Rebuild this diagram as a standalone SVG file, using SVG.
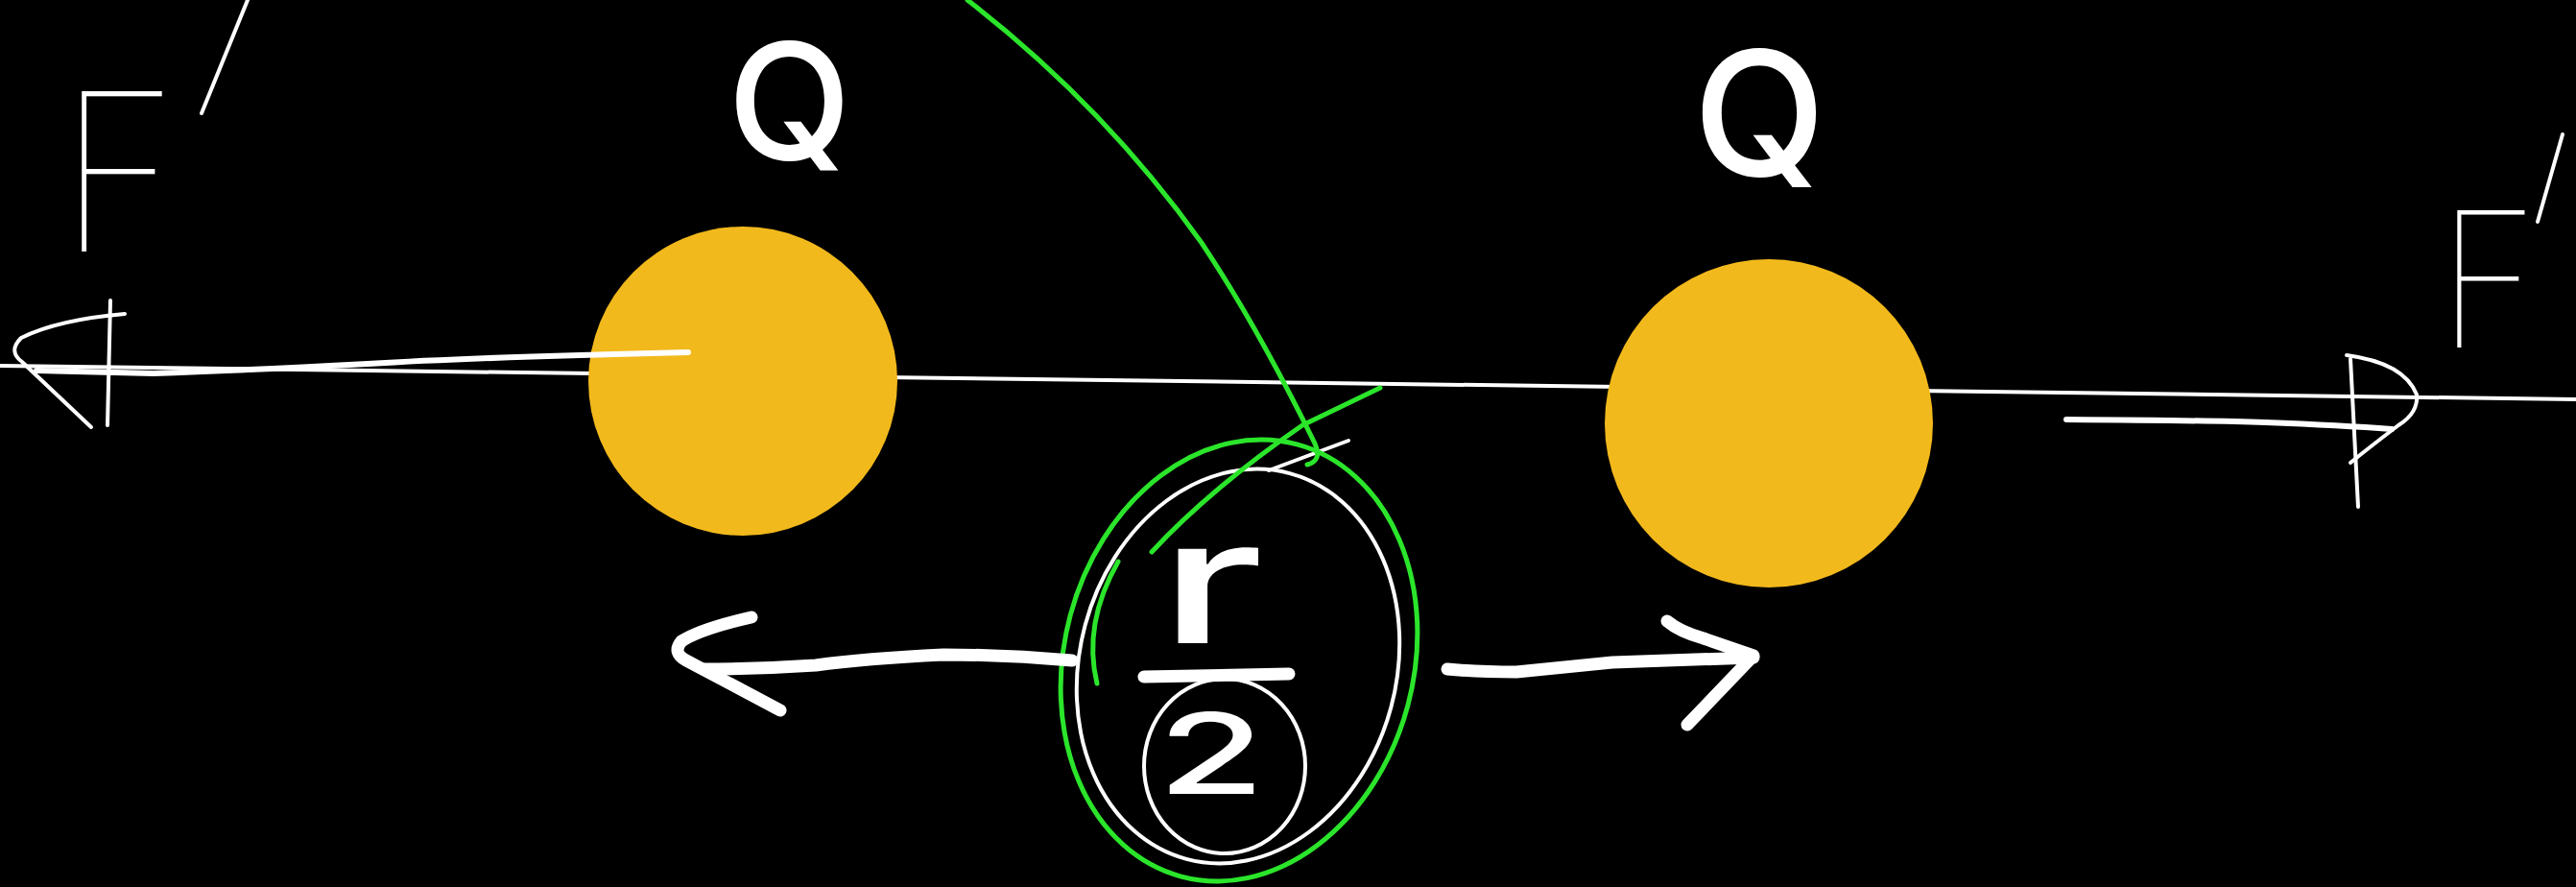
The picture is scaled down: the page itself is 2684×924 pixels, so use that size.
<svg xmlns="http://www.w3.org/2000/svg" width="2684" height="924" viewBox="0 0 2684 924">
<style>
.bg{fill:#000}
.charge{fill:#F2B91C}
.ink{fill:none;stroke:#fff;stroke-linecap:round;stroke-linejoin:round}
.thin{stroke-width:4}
.mid{stroke-width:6}
.bold{stroke-width:13}
.green{fill:none;stroke:#2BE52B;stroke-width:5;stroke-linecap:round;stroke-linejoin:round}
.lbl{fill:#fff;font-family:Inter,"Liberation Sans",Arial,sans-serif;font-weight:500}
.fine{font-weight:100}
</style>
<rect class="bg" x="0" y="0" width="2684" height="924"/>
<g id="axis">
<line class="ink thin" x1="0" y1="381" x2="2684" y2="416"/>
</g>
<g id="charge-left">
<circle class="charge" cx="774" cy="397" r="161"/>
<text class="lbl" x="758" y="166" font-size="168">Q</text>
</g>
<g id="charge-right">
<circle class="charge" cx="1843" cy="441" r="171"/>
<text class="lbl" x="1764" y="183" font-size="180">Q</text>
</g>
<g id="force-left">
<text class="lbl fine" x="61" y="262" font-size="230" textLength="125" lengthAdjust="spacingAndGlyphs">F</text>
<line class="ink thin" x1="210" y1="118" x2="258" y2="0"/>
</g>
<g id="force-right">
<text class="lbl fine" x="2540" y="362" font-size="196" textLength="105" lengthAdjust="spacingAndGlyphs">F</text>
<line class="ink thin" x1="2644" y1="231" x2="2670" y2="140"/>
</g>
<g id="midpoint">
<ellipse class="ink thin" cx="1290" cy="694" rx="165" ry="208" transform="rotate(15 1290 694)"/>
<line class="ink thin" x1="1322" y1="490" x2="1405" y2="459"/>
<ellipse class="ink thin" cx="1276" cy="798" rx="84" ry="91"/>
<text class="lbl" x="1207" y="670" font-size="180" textLength="110" lengthAdjust="spacingAndGlyphs">r</text>
<line class="ink bold" x1="1192" y1="705" x2="1343" y2="702"/>
<text class="lbl" x="1206" y="827" font-size="116" textLength="112" lengthAdjust="spacingAndGlyphs">2</text>
</g>
<g id="highlight">
<path class="green" d="M1008,0 Q1150,110 1252,253 Q1310,340 1370,462 Q1378,480 1362,484"/>
<ellipse class="green" cx="1291" cy="688" rx="182" ry="233" transform="rotate(15 1291 688)"/>
<path class="green" d="M1438,404 L1357,443 Q1260,510 1200,575"/>
<path class="green" d="M1143,712 Q1128,650 1165,585"/>
</g>
<g id="connectors">
<path class="ink mid" d="M717,367 Q500,372 383,379 Q250,386 160,389 L38,386"/>
<path class="ink thin" d="M130,327 Q60,333 22,352 Q8,366 23,377 L95,445"/>
<line class="ink thin" x1="115" y1="313" x2="112" y2="443"/>
<path class="ink mid" d="M2153,437 Q2300,438 2360,440 Q2440,443 2492,447"/>
<path class="ink thin" d="M2445,370 Q2505,378 2518,411 Q2520,430 2499,443 Q2470,465 2449,482"/>
<line class="ink thin" x1="2449" y1="374" x2="2457" y2="528"/>
<path class="ink bold" d="M1117,688 Q1050,682 983,682 Q900,686 850,693 Q790,697 733,697"/>
<path class="ink bold" d="M783,643 Q730,655 710,668 Q700,680 715,688 L813,740"/>
<path class="ink bold" d="M1508,697 Q1540,700 1580,700 Q1630,695 1680,690 L1827,685"/>
<path class="ink bold" d="M1737,647 Q1750,658 1775,665 L1827,683 L1758,755"/>
</g>
</svg>
